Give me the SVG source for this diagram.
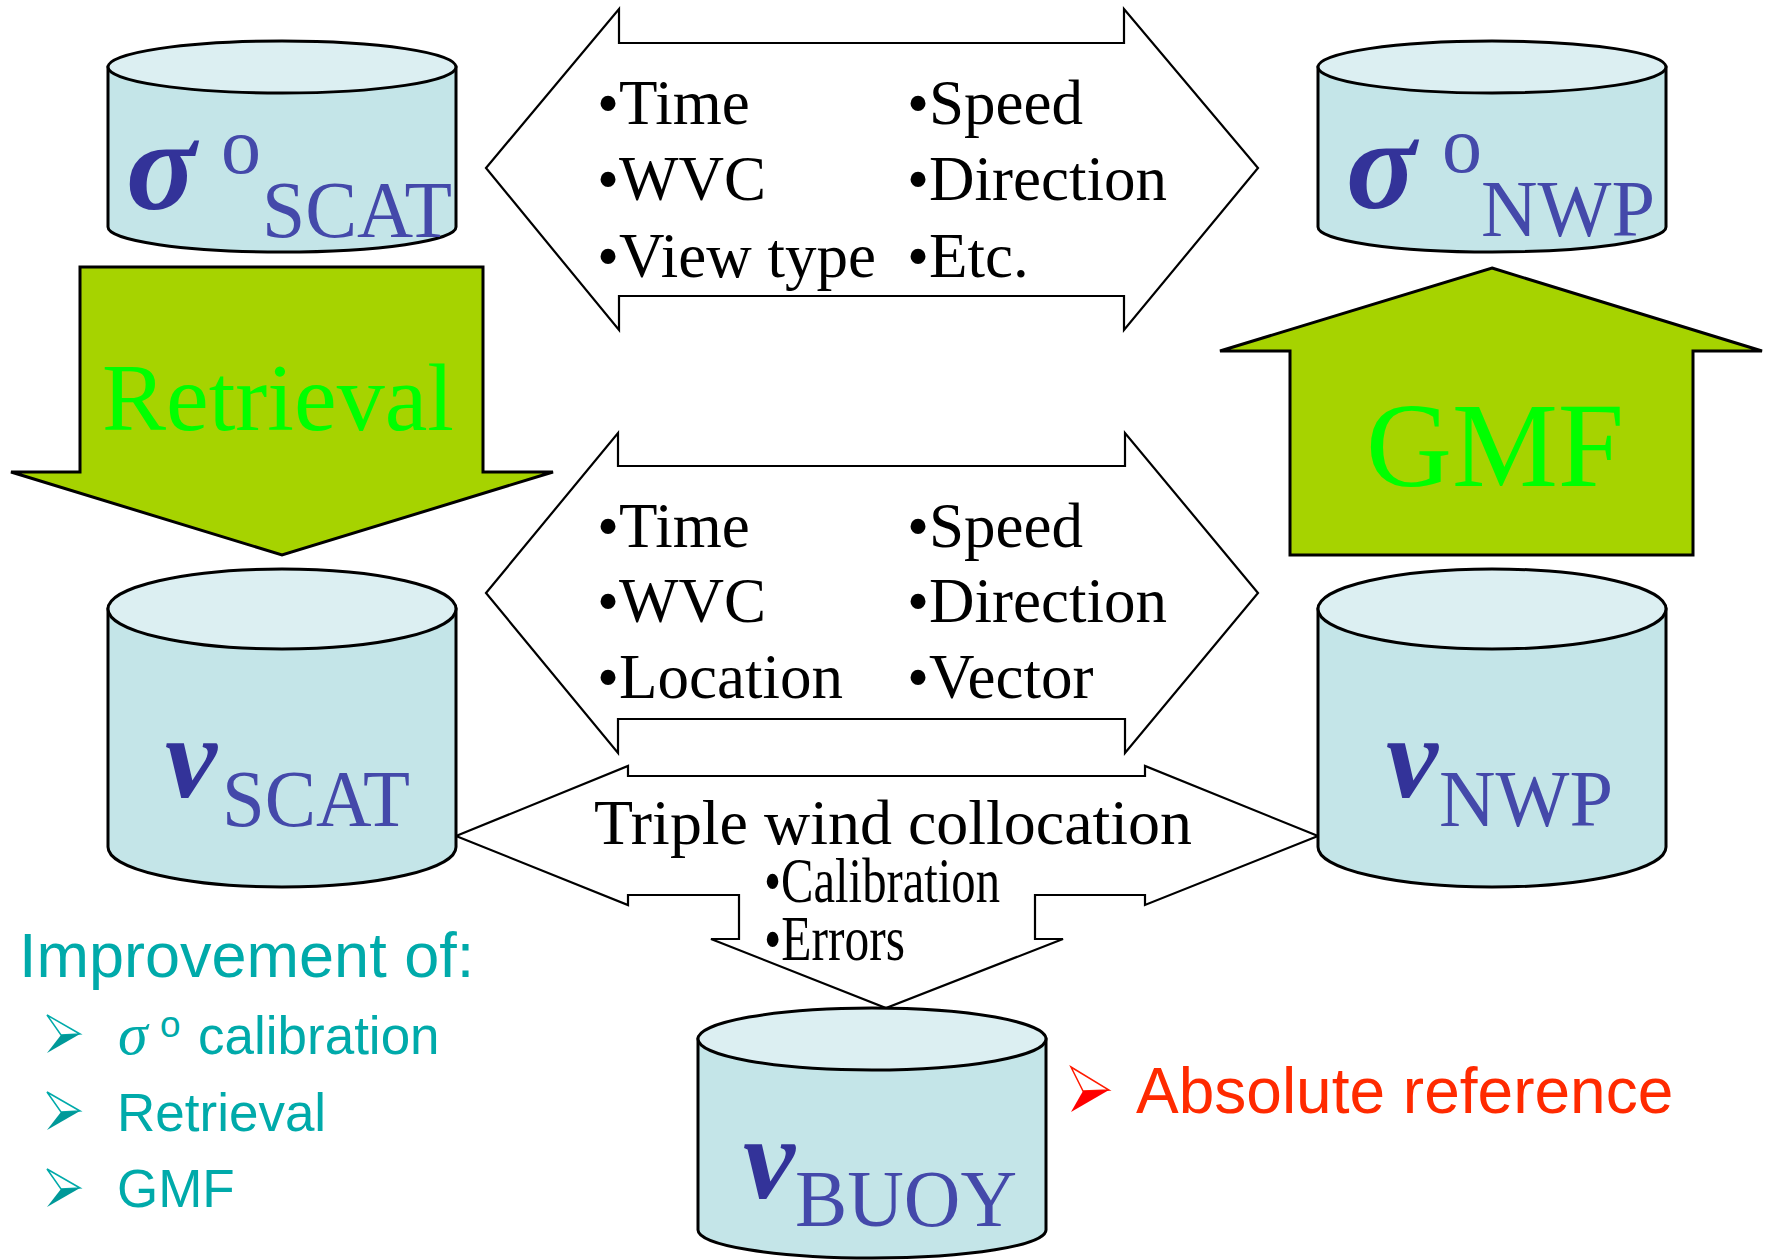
<svg xmlns="http://www.w3.org/2000/svg" width="1767" height="1260" viewBox="0 0 1767 1260">
<defs>
<style>
.side{fill:#C4E5E8;stroke:#000;stroke-width:3}
.top{fill:#DCEFF2;stroke:#000;stroke-width:3}
.blk{fill:#A6D300;stroke:#000;stroke-width:3}
.dbl{fill:#fff;stroke:#000;stroke-width:2.2;stroke-linejoin:miter}
.serif{font-family:"Liberation Serif","Times New Roman",serif}
.sans{font-family:"Liberation Sans",Arial,sans-serif}
.greek{font-family:"Liberation Serif","Times New Roman",serif;font-weight:bold;font-style:italic;fill:#333399}
.sub{font-family:"Liberation Serif","Times New Roman",serif;fill:#4449AA;font-size:80px}
.lbl{font-family:"Liberation Serif","Times New Roman",serif;fill:#000;font-size:63px}
.green{font-family:"Liberation Serif","Times New Roman",serif;fill:#00FF00}
.teal{font-family:"Liberation Sans",Arial,sans-serif;fill:#00AAAA}
</style>
</defs>
<rect width="1767" height="1260" fill="#fff"/>

<g id="connectors">
  <g id="arrow-retrieval">
    <polygon class="blk" points="80,267 483,267 483,472 553,472 282,555 11,472 80,472"/>
    <text class="green" x="102" y="430" font-size="95" textLength="352" lengthAdjust="spacingAndGlyphs">Retrieval</text>
  </g>
  <g id="arrow-gmf">
    <polygon class="blk" points="1492,268 1762,351 1693,351 1693,555 1290,555 1290,351 1220,351"/>
    <text class="green" x="1366" y="486" font-size="120" textLength="258" lengthAdjust="spacingAndGlyphs">GMF</text>
  </g>
  <g id="arrow-top">
    <polygon class="dbl" points="486,168 619,9 619,43 1124,43 1124,9 1258,168 1124,330 1124,296 619,296 619,330"/>
    <text class="lbl" x="597" y="124">•Time</text>
    <text class="lbl" x="597" y="200">•WVC</text>
    <text class="lbl" x="597" y="277">•View type</text>
    <text class="lbl" x="907" y="124">•Speed</text>
    <text class="lbl" x="907" y="200">•Direction</text>
    <text class="lbl" x="907" y="277">•Etc.</text>
  </g>
  <g id="arrow-middle">
    <polygon class="dbl" points="486,593 618,433 618,466 1125,466 1125,433 1258,593 1125,753 1125,719 618,719 618,753"/>
    <text class="lbl" x="597" y="547">•Time</text>
    <text class="lbl" x="597" y="622">•WVC</text>
    <text class="lbl" x="597" y="698">•Location</text>
    <text class="lbl" x="907" y="547">•Speed</text>
    <text class="lbl" x="907" y="622">•Direction</text>
    <text class="lbl" x="907" y="698">•Vector</text>
  </g>
  <g id="arrow-triple">
    <polygon class="dbl" points="456,836 628,766 628,776 1145,776 1145,766 1318,836 1145,905 1145,895 1035,895 1035,939 1063,939 886,1008 711,939 739,939 739,895 628,895 628,905"/>
    <text class="lbl" x="594" y="844" textLength="598" lengthAdjust="spacingAndGlyphs">Triple wind collocation</text>
    <text class="lbl" x="764" y="902" font-size="42" textLength="236" lengthAdjust="spacingAndGlyphs">•Calibration</text>
    <text class="lbl" x="764" y="960" font-size="42" textLength="141" lengthAdjust="spacingAndGlyphs">•Errors</text>
  </g>
</g>

<g id="node-sigma-scat">
  <path class="side" d="M108,67 L108,227 A174,25 0 0 0 456,227 L456,67 Z"/>
  <ellipse class="top" cx="282" cy="67" rx="174" ry="26"/>
  <text class="greek" x="126" y="209" font-size="130">σ</text>
  <text class="sub" x="221" y="173">o</text>
  <text class="sub" x="262" y="237" textLength="190" lengthAdjust="spacingAndGlyphs">SCAT</text>
</g>

<g id="node-sigma-nwp">
  <path class="side" d="M1318,67 L1318,227 A174,25 0 0 0 1666,227 L1666,67 Z"/>
  <ellipse class="top" cx="1492" cy="67" rx="174" ry="26"/>
  <text class="greek" x="1346" y="208" font-size="130">σ</text>
  <text class="sub" x="1442" y="172">o</text>
  <text class="sub" x="1481" y="236" textLength="174" lengthAdjust="spacingAndGlyphs">NWP</text>
</g>

<g id="node-v-scat">
  <path class="side" d="M108,609 L108,847 A174,40 0 0 0 456,847 L456,609 Z"/>
  <ellipse class="top" cx="282" cy="609" rx="174" ry="40"/>
  <text class="greek" x="165" y="797" font-size="117">v</text>
  <text class="sub" x="222" y="826" textLength="188" lengthAdjust="spacingAndGlyphs">SCAT</text>
</g>

<g id="node-v-nwp">
  <path class="side" d="M1318,609 L1318,847 A174,40 0 0 0 1666,847 L1666,609 Z"/>
  <ellipse class="top" cx="1492" cy="609" rx="174" ry="40"/>
  <text class="greek" x="1386" y="797" font-size="117">v</text>
  <text class="sub" x="1439" y="826" textLength="174" lengthAdjust="spacingAndGlyphs">NWP</text>
</g>

<g id="node-v-buoy">
  <path class="side" d="M698,1039 L698,1230 A174,28 0 0 0 1046,1230 L1046,1039 Z"/>
  <ellipse class="top" cx="872" cy="1039" rx="174" ry="31"/>
  <text class="greek" x="743" y="1198" font-size="117">v</text>
  <text class="sub" x="795" y="1226" textLength="222" lengthAdjust="spacingAndGlyphs">BUOY</text>
</g>

<g id="note-improvement">
  <text class="teal" x="19" y="977" font-size="63">Improvement of:</text>
  <g id="bullet1">
    <polygon points="47,1015 80,1034 61,1035" fill="#fff" stroke="#00AAAA" stroke-width="1.5"/>
    <polygon points="61,1035 80,1034 47,1053" fill="#009999"/>
  </g>
  <g id="bullet2">
    <polygon points="47,1092 80,1111 61,1112" fill="#fff" stroke="#00AAAA" stroke-width="1.5"/>
    <polygon points="61,1112 80,1111 47,1130" fill="#009999"/>
  </g>
  <g id="bullet3">
    <polygon points="47,1169 80,1188 61,1189" fill="#fff" stroke="#00AAAA" stroke-width="1.5"/>
    <polygon points="61,1189 80,1188 47,1207" fill="#009999"/>
  </g>
  <text x="118" y="1054" font-size="60" font-style="italic" fill="#00AAAA" class="serif">σ</text>
  <text class="teal" x="160" y="1037" font-size="37">o</text>
  <text class="teal" x="198" y="1054" font-size="53">calibration</text>
  <text class="teal" x="117" y="1131" font-size="53">Retrieval</text>
  <text class="teal" x="117" y="1207" font-size="53">GMF</text>
</g>

<g id="note-absolute">
  <polygon points="1071,1067 1109,1090 1083,1091" fill="#fff" stroke="#FF1A00" stroke-width="1.5"/>
  <polygon points="1083,1091 1109,1090 1071,1112" fill="#FF0000"/>
  <text x="1136" y="1113" font-size="64" fill="#FF2A00" class="sans">Absolute reference</text>
</g>
</svg>
